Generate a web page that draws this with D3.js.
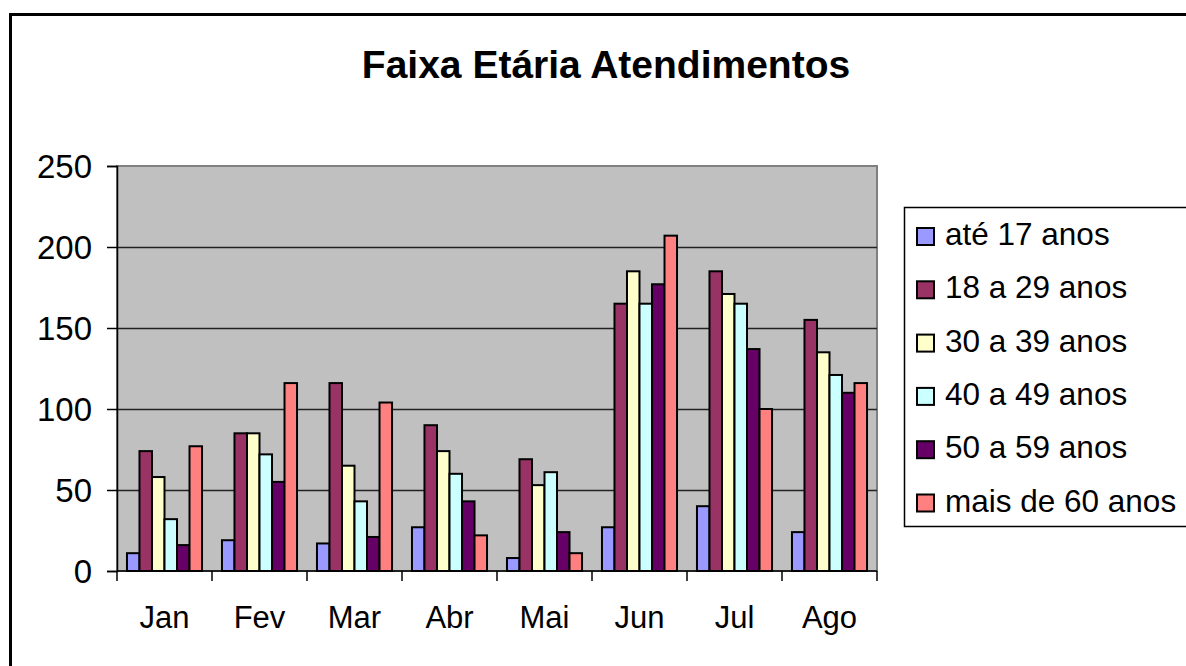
<!DOCTYPE html>
<html>
<head>
<meta charset="utf-8">
<script src="https://cdn.jsdelivr.net/npm/d3@7"></script>
<style>
  body { margin: 0; background: #fff; }
  text { font-family: "Liberation Sans", Arial, sans-serif; fill: #000; }
</style>
</head>
<body>
<div id="chart"></div>
<script>
// data
var months = ["Jan", "Fev", "Mar", "Abr", "Mai", "Jun", "Jul", "Ago"];
var faixas = ["até 17 anos", "18 a 29 anos", "30 a 39 anos", "40 a 49 anos", "50 a 59 anos", "mais de 60 anos"];
var ate17   = [11, 19, 17, 27, 8, 27, 40, 24];
var de18a29 = [74, 85, 116, 90, 69, 165, 185, 155];
var de30a39 = [58, 85, 65, 74, 53, 185, 171, 135];
var de40a49 = [32, 72, 43, 60, 61, 165, 165, 121];
var de50a59 = [16, 55, 21, 43, 24, 177, 137, 110];
var mais60  = [77, 116, 104, 22, 11, 207, 100, 116];
var series = [ate17, de18a29, de30a39, de40a49, de50a59, mais60];
var yTicks = [0, 50, 100, 150, 200, 250];

var palette = ["#9999FF", "#993366", "#FFFFCC", "#CCFFFF", "#660066", "#FF8080"];

const W = 1186, H = 666;
const plot = {left: 117, right: 877, top: 166, bottom: 571};

var svg = d3.select("#chart").append("svg")
  .attr("width", W).attr("height", H);

// outer chart frame (runs off the right and bottom edges)
svg.append("rect")
  .attr("x", 10.5).attr("y", 14.5)
  .attr("width", 1300).attr("height", 800)
  .attr("fill", "#fff").attr("stroke", "#000").attr("stroke-width", 3);

svg.append("text")
  .attr("x", 606).attr("y", 78)
  .attr("text-anchor", "middle")
  .attr("font-size", "39px").attr("font-weight", "bold")
  .text("Faixa Etária Atendimentos");

var x0 = d3.scaleBand().domain(months)
  .range([plot.left, plot.right])
  .paddingInner(0.21).paddingOuter(0.105);
var x1 = d3.scaleBand().domain(d3.range(series.length))
  .range([0, x0.bandwidth()]);
var y = d3.scaleLinear().domain([0, 250]).range([plot.bottom, plot.top]);

// plot background
svg.append("rect")
  .attr("x", plot.left).attr("y", plot.top)
  .attr("width", plot.right - plot.left).attr("height", plot.bottom - plot.top)
  .attr("fill", "#C0C0C0").attr("stroke", "#808080").attr("stroke-width", 2);

// gridlines
svg.append("g").selectAll("line")
  .data(yTicks.slice(1, -1)).enter().append("line")
  .attr("x1", plot.left).attr("x2", plot.right)
  .attr("y1", function(d){ return Math.round(y(d)) + 0.5; })
  .attr("y2", function(d){ return Math.round(y(d)) + 0.5; })
  .attr("stroke", "#222").attr("stroke-width", 1.3);

// bars
var groups = svg.append("g").selectAll("g")
  .data(months).enter().append("g")
  .attr("transform", function(d){ return "translate(" + x0(d) + ",0)"; });
groups.selectAll("rect")
  .data(function(m, i){ return series.map(function(s, k){ return {k: k, v: s[i]}; }); })
  .enter().append("rect")
  .attr("x", function(d){ return x1(d.k); })
  .attr("y", function(d){ return y(d.v); })
  .attr("width", x1.bandwidth())
  .attr("height", function(d){ return plot.bottom - y(d.v); })
  .attr("fill", function(d){ return palette[d.k]; })
  .attr("stroke", "#000").attr("stroke-width", 2);

// y axis
var yAxis = svg.append("g")
  .attr("transform", "translate(" + plot.left + ",0)")
  .call(d3.axisLeft(y).tickValues(yTicks).tickSize(10).tickPadding(15));
yAxis.select(".domain").attr("stroke", "#000").attr("stroke-width", 1.5);
yAxis.selectAll(".tick line").attr("stroke", "#000").attr("stroke-width", 1.5);
yAxis.selectAll("text")
  .attr("font-size", "33px").attr("font-family", "Liberation Sans, Arial, sans-serif")
  .attr("dy", "0.36em");

// x axis: ticks between categories
var xAxis = svg.append("g")
  .attr("transform", "translate(0," + plot.bottom + ")");
xAxis.append("line")
  .attr("x1", plot.left).attr("x2", plot.right)
  .attr("stroke", "#000").attr("stroke-width", 1.5);
var edges = months.map(function(m){ return x0(m) - x0.step() * x0.paddingInner() / 2; })
  .concat([plot.right]);
xAxis.selectAll(".tk").data(edges).enter().append("line")
  .attr("x1", function(d){ return d; }).attr("x2", function(d){ return d; })
  .attr("y1", 0).attr("y2", 10)
  .attr("stroke", "#000").attr("stroke-width", 1.5);
xAxis.selectAll("text").data(months).enter().append("text")
  .attr("x", function(d){ return x0(d) + x0.bandwidth() / 2; })
  .attr("y", 57)
  .attr("text-anchor", "middle").attr("font-size", "31px")
  .text(function(d){ return d; });

// legend (box runs off the right edge)
var legend = svg.append("g");
legend.append("rect")
  .attr("x", 904.5).attr("y", 207.5)
  .attr("width", 400).attr("height", 319)
  .attr("fill", "#fff").attr("stroke", "#000").attr("stroke-width", 1.5);
var item = legend.selectAll("g").data(faixas).enter().append("g")
  .attr("transform", function(d, i){ return "translate(0," + (245 + 53.3 * i) + ")"; });
item.append("rect")
  .attr("x", 917).attr("y", -17)
  .attr("width", 17).attr("height", 17)
  .attr("fill", function(d, i){ return palette[i]; })
  .attr("stroke", "#000").attr("stroke-width", 2);
item.append("text")
  .attr("x", 945).attr("y", 0)
  .attr("font-size", "31.5px")
  .text(function(d){ return d; });
</script>
</body>
</html>
